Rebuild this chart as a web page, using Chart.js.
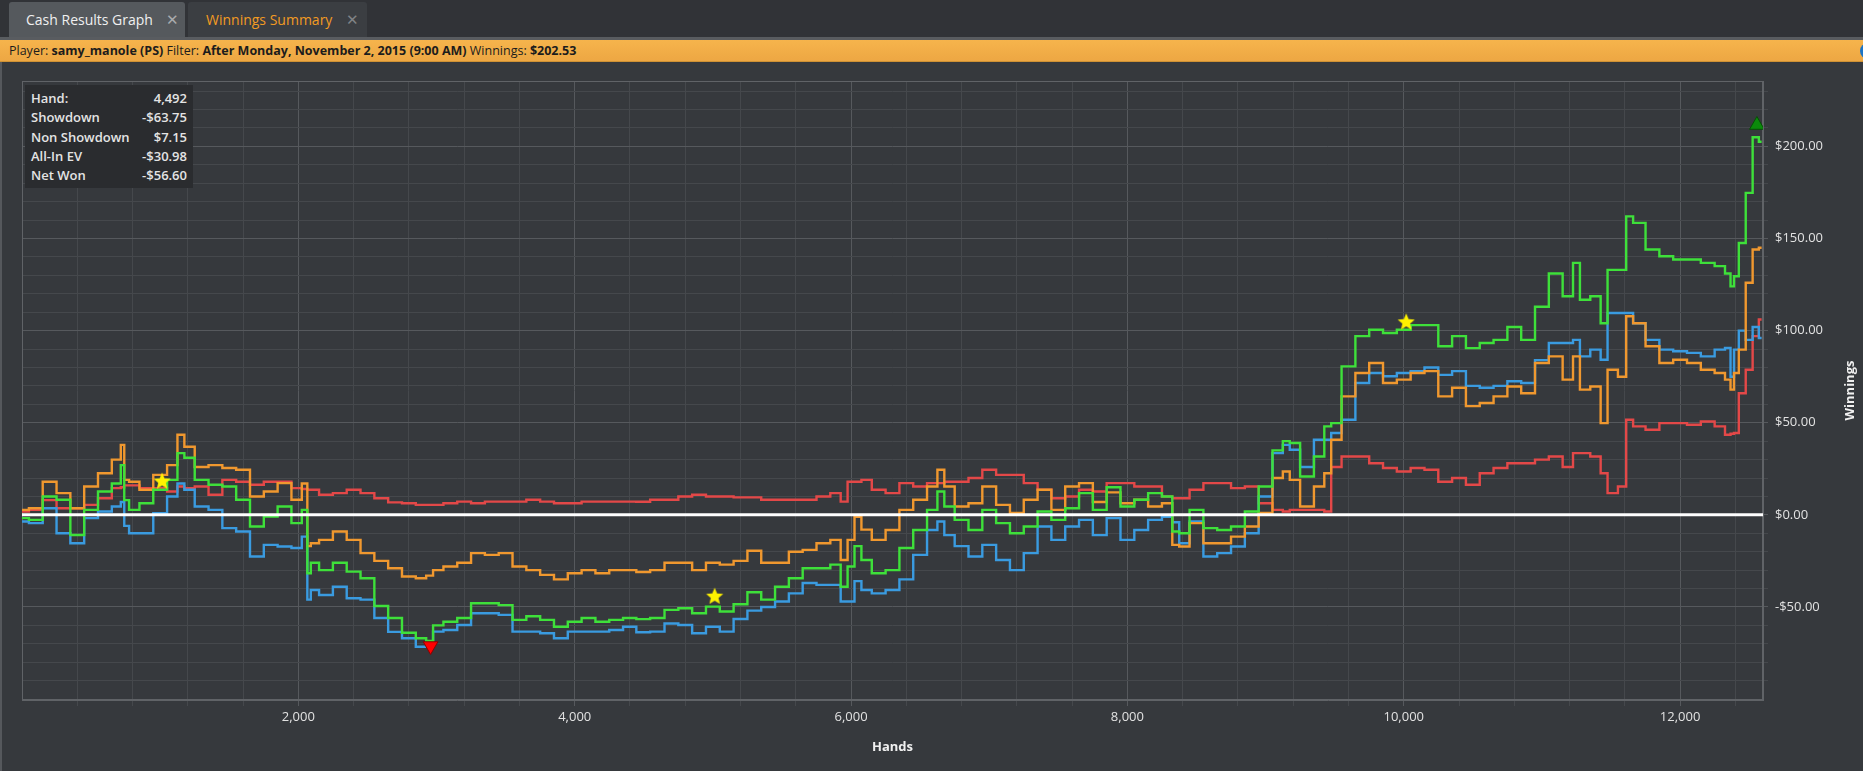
<!DOCTYPE html>
<html>
<head>
<meta charset="utf-8">
<script src="https://cdn.jsdelivr.net/npm/chart.js@4.4.1/dist/chart.umd.min.js"></script>
<style>
  html, body { margin: 0; padding: 0; }
  body { width: 1863px; height: 771px; overflow: hidden; position: relative; background: #36393d; font-family: 'Open Sans', sans-serif; }
  #tabbar { position: absolute; left: 0; top: 0; width: 1863px; height: 37px; background: #313337; border-bottom: 3px solid #595c60; }
  .tab { position: absolute; top: 2px; height: 35px; border-radius: 3px 3px 0 0; font-size: 14px; line-height: 35px; }
  .tab .x { position: absolute; top: 0; font-size: 15px; }
  #tab1 { left: 9px; width: 176px; background: #55595d; color: #f0f0f0; }
  #tab2 { left: 188px; width: 179px; background: #3b3e42; color: #f29b22; }
  #header { position: absolute; left: 0; top: 40px; width: 1863px; height: 22px; background: linear-gradient(#f6b44c, #eda743); border-bottom: 1px solid #cf9234; box-sizing: border-box; font-size: 12.5px; line-height: 21px; color: #1c1c1c; padding-left: 9px; white-space: nowrap; }
  #header b { font-weight: 700; }
  #blue { position: absolute; left: 1860px; top: 43px; width: 16px; height: 16px; border-radius: 8px; background: #1b74c6; }
  #leftline { position: absolute; left: 0; top: 62px; width: 2px; height: 709px; background: #55585c; }
  #chart { position: absolute; left: 0; top: 62px; }
  #stats { position: absolute; left: 25px; top: 85px; width: 168px; height: 103px; background: #2a2c2f; box-sizing: border-box; padding: 4px 6px 0 6px; font-size: 13px; font-weight: 600; color: #e4e4e4; }
  #stats div { height: 19.3px; line-height: 19.3px; display: flex; justify-content: space-between; }
</style>
</head>
<body>
<div id="tabbar"></div>
<div class="tab" id="tab1"><span style="position:absolute;left:17px">Cash Results Graph</span><span class="x" style="left:157px;color:#a9abad">&#x2715;</span></div>
<div class="tab" id="tab2"><span style="position:absolute;left:18px">Winnings Summary</span><span class="x" style="left:158px;color:#808386">&#x2715;</span></div>
<div id="header">Player: <b>samy_manole (PS)</b> Filter: <b>After Monday, November 2, 2015 (9:00 AM)</b> Winnings: <b>$202.53</b></div>
<div id="blue"></div>
<canvas id="chart" width="1863" height="709"></canvas>
<div id="leftline"></div>
<div id="stats">
  <div><span>Hand:</span><span>4,492</span></div>
  <div><span>Showdown</span><span>-$63.75</span></div>
  <div><span>Non Showdown</span><span>$7.15</span></div>
  <div><span>All-In EV</span><span>-$30.98</span></div>
  <div><span>Net Won</span><span>-$56.60</span></div>
</div>
<script>
// hands played (x) and cumulative winnings per line
let hands = [0, 100, 200, 300, 400, 500, 600, 700, 730, 750, 800, 900, 1000, 1100, 1150, 1200, 1300, 1400, 1500, 1600,
  1700, 1800, 1900, 2000, 2050, 2080, 2100, 2200, 2300, 2400, 2500, 2600, 2700, 2800, 2900, 2950, 3000, 3100, 3200, 3300,
  3400, 3500, 3600, 3700, 3800, 3900, 4000, 4100, 4200, 4300, 4400, 4492, 4600, 4700, 4800, 4900, 5000, 5100, 5200, 5300,
  5400, 5500, 5600, 5700, 5800, 5900, 5950, 6000, 6050, 6100, 6200, 6300, 6400, 6500, 6600, 6650, 6700, 6800, 6900, 7000,
  7100, 7200, 7300, 7400, 7500, 7600, 7700, 7800, 7900, 8000, 8100, 8200, 8300, 8350, 8400, 8500, 8600, 8700, 8800, 8900,
  9000, 9100, 9150, 9200, 9300, 9400, 9450, 9500, 9600, 9700, 9800, 9900, 10000, 10100, 10200, 10300, 10400, 10500, 10600, 10700,
  10800, 10900, 11000, 11100, 11200, 11250, 11300, 11400, 11450, 11500, 11600, 11620, 11700, 11800, 11900, 12000, 12100, 12200, 12300, 12350,
  12380, 12400, 12450, 12500, 12550, 12590];

let netWon = [-1.8, -2.7, 10, 8.2, -10.9, 2.7, 12.7, 17, 27, 8, 2.7, 6.3, 13.6, 19, 33.5, 31, 19, 16.3, 15.4, 8.2,
  -6.3, -0.9, 4.5, -4.5, 2.7, -31.7, -26, -30, -26, -30.8, -34.4, -49.5, -56, -64, -67, -68.5, -60, -58, -56, -48,
  -48, -49, -57, -55, -57, -60.7, -58, -56, -58, -57, -56, -56.6, -56, -51.6, -50.7, -53.4, -49.8, -52.5, -48.5, -42,
  -46, -39, -34.4, -29, -29, -27, -39, -28, -17, -24.5, -31.7, -30, -18, -8.2, 2.7, 12.7, 4.5, -2.7, -8.2, 2.7,
  -4.5, -10, -6.3, 1.8, -2.7, 3.6, 11.8, 2.7, 15, 4.5, 8.2, 11.8, 10, -9, -10, 2.7, -7.2, -8.2, -6.3, 1.8,
  15.4, 35, 40, 39, 20.8, 31.7, 48, 49.8, 80.6, 97, 100.5, 98.7, 100.5, 103, 103, 91.5, 97, 90.5, 93.3, 95,
  102, 95, 113, 131, 118.7, 136.8, 116.8, 118.7, 104, 133, 133, 162, 158.5, 144, 140.4, 138.6, 138.6, 136.8, 135, 131,
  124, 129.5, 147.6, 174.8, 205, 202.53];

let allInEV = [2.7, 3.6, 18, 11.8, 3.6, 15.4, 22.6, 30, 38, 19, 18, 13.6, 21.7, 27, 43.5, 37, 26, 27, 25.4, 24.5,
  10, 12.7, 17.2, 8.2, 17, -17, -15.4, -13.6, -9, -13.6, -20.8, -25, -29, -33.5, -34.4, -33, -30, -28, -26, -20.8,
  -21.7, -20.8, -28, -30, -32.6, -35, -31.7, -30, -31.7, -30, -30, -30.98, -30, -26, -26, -30, -26, -27, -25, -19.5,
  -26, -26, -20, -19, -15.4, -13.6, -24.5, -13.6, -1, -8, -13.6, -8.2, 2.7, 8.2, 15.4, 24.5, 15.4, 4.5, 6.3, 15.4,
  5.4, 1, 8.2, 13.6, 2.7, 15.4, 17.2, 7, 12.2, 6.3, 8.2, 4.5, 6.3, -16.3, -17.2, -4.5, -15.4, -15.4, -11.8, -6.3,
  1, 20, 23.5, 19, 4.5, 15.4, 22.6, 40.8, 64.3, 77, 82.4, 71.6, 73.4, 77, 78, 64.3, 69, 59, 60.7, 64.3,
  69.7, 66, 82.4, 86, 73.4, 86, 68, 69.7, 49.8, 78.8, 75, 107.8, 104, 91.5, 82.4, 84.2, 82.4, 78.8, 77, 73.4,
  68, 77, 89.7, 126, 144, 145];

let showdown = [-3.6, -4.5, 3.6, -10, -15.4, -1.8, 1.8, 4.5, 7, -6, -10, -10, 0.9, 10, 17, 13.6, 4.5, 2.7, -7.2, -9,
  -22.6, -16.3, -17.2, -18, -11.8, -46, -40.8, -43.5, -39, -45.3, -46, -56, -63.5, -67, -71.6, -71.6, -63.4, -62.5, -59.8, -53.4,
  -53.4, -54.3, -63.4, -63.4, -64.3, -67, -63.4, -63.4, -63.4, -62.5, -60.7, -63.75, -63.4, -59, -59.8, -64.3, -60.7, -63.4, -56.5, -52,
  -50, -47, -42.6, -37, -38, -38, -47, -47, -36, -40.8, -42.6, -40.8, -35, -21.7, -8.2, -3.6, -11, -17, -22.6, -16.3,
  -24.5, -30, -20.8, -6.3, -13.6, -6.3, -2.7, -11, -1.8, -13.6, -8.2, -2.7, -1, -4, -15.4, -3.6, -22.6, -20.8, -17.2, -10,
  10, 33.5, 38, 35.3, 26, 40.8, 40.8, 44.4, 51.6, 71.6, 77, 75.2, 77, 78, 80, 76, 78, 70, 69, 70,
  72.5, 71.6, 84, 93.3, 93.3, 95, 86, 89.7, 84.2, 109.6, 109.6, 109.6, 104, 95, 89.7, 88.8, 87.9, 86, 89.7, 90.6,
  75, 89.7, 100, 95, 102, 96];

let nonShowdown = [1.8, 2.7, 8, 3.6, 3.6, 5.4, 9, 14.5, 15, 16, 16, 14.5, 14.5, 12.7, 15.4, 14.5, 15.4, 10.9, 19, 18,
  16.3, 18, 18, 14.5, 14, 13.6, 13.6, 10.9, 11.8, 13.6, 11.8, 9, 6.8, 6.3, 5.4, 5.4, 5.4, 6.3, 7.2, 6.3,
  7.2, 7.2, 7.2, 8.2, 7.2, 6.3, 6.3, 7.2, 7.2, 7.2, 7.2, 7.15, 8.2, 8.2, 10, 10.9, 10, 10, 9.5, 9.5,
  8.2, 8.2, 8.2, 8.2, 10, 11.8, 7.2, 18, 18, 19, 13.6, 11.8, 17.2, 15.4, 17.2, 17.2, 18, 18, 20, 24.5,
  21.7, 21.7, 17.2, 13.6, 9, 10, 13.6, 12.7, 17.2, 17.2, 15.4, 15.4, 10, 9, 9, 13.6, 17.2, 17.2, 14.5, 15.4,
  6.3, 2.7, 1.8, 2.7, 2.7, 2.7, 1.8, 26, 31.7, 31.7, 28, 25.4, 23.5, 25.4, 24.5, 18, 20, 16.3, 22.6, 25.4,
  28, 28, 30, 31.7, 26, 33.5, 33.5, 31.7, 22.6, 11.8, 15.4, 51.6, 48, 46.2, 49.8, 49.8, 48.9, 50.7, 48, 43.5,
  44, 44.4, 66, 78.8, 97, 106];

// markers: stars on net won, lowest and highest point
let starHands = [1014, 5013, 10018];
let starValues = [18.1, -44.4, 104.5];
let lowHand = [2957], lowValue = [-71.2];
let highHand = [12556], highValue = [211.6];

// axis ticks
let xTicks = [];
for (let h = 400; h <= 12400; h += 400) xTicks.push(h);
let yTicks = [];
for (let v = -90; v <= 230; v += 10) yTicks.push(v);

function pts(xs, ys) {
    return xs.map(function (x, i) { return {x: x, y: ys[i]}; });
}

// filled yellow star used as point image
function makeStar(r) {
    let c = document.createElement('canvas');
    c.width = c.height = 2 * r + 2;
    let g = c.getContext('2d');
    g.beginPath();
    for (let i = 0; i < 10; i++) {
        let a = -Math.PI / 2 + i * Math.PI / 5;
        let rr = i % 2 ? r * 0.45 : r;
        g.lineTo(r + 1 + rr * Math.cos(a), r + 1 + rr * Math.sin(a));
    }
    g.closePath();
    g.fillStyle = '#fff200';
    g.fill();
    return c;
}

function money(v) {
    return (v < 0 ? '-$' : '$') + Math.abs(v).toFixed(2);
}

const frame = {
    id: 'frame',
    beforeDatasetsDraw(chart) {
        const {ctx, chartArea: a} = chart;
        ctx.save();
        ctx.strokeStyle = '#606367';
        ctx.lineWidth = 1;
        ctx.strokeRect(a.left + 0.5, a.top + 0.5, a.right - a.left - 1, a.bottom - a.top - 1);
        ctx.restore();
    },
    afterDatasetsDraw(chart) {
        const {ctx, chartArea: a} = chart;
        let y0 = chart.scales.y.getPixelForValue(0);
        ctx.save();
        ctx.strokeStyle = '#ffffff';
        ctx.lineWidth = 3;
        ctx.beginPath();
        ctx.moveTo(a.left, y0);
        ctx.lineTo(a.right, y0);
        ctx.stroke();
        ctx.restore();
    },
    afterDraw(chart) {
        const {ctx, chartArea: a} = chart;
        ctx.save();
        ctx.fillStyle = '#f0f0f0';
        ctx.font = "bold 13px 'Open Sans', sans-serif";
        ctx.textAlign = 'center';
        ctx.textBaseline = 'middle';
        ctx.fillText('Hands', (a.left + a.right) / 2, 685);
        ctx.translate(1850, (a.top + a.bottom) / 2);
        ctx.rotate(-Math.PI / 2);
        ctx.fillText('Winnings', 0, 0);
        ctx.restore();
    }
};

Chart.defaults.font.family = "'Open Sans', sans-serif";
Chart.defaults.font.size = 13;
Chart.defaults.color = '#e2e2e2';

let lineStyle = {borderWidth: 2.4, pointRadius: 0, stepped: 'middle', tension: 0, fill: false};

var ctx = document.getElementById('chart').getContext('2d');
var chart = new Chart(ctx, {
    type: 'line',
    data: {
        datasets: [
            {label: 'Stars', data: pts(starHands, starValues), showLine: false, pointStyle: makeStar(9), pointRadius: 9},
            {label: 'Low', data: pts(lowHand, lowValue), showLine: false, pointStyle: 'triangle', pointRotation: 180,
                pointRadius: 8.5, backgroundColor: '#ff0000', borderColor: '#8a0000', pointBorderWidth: 1},
            {label: 'High', data: pts(highHand, highValue), showLine: false, pointStyle: 'triangle',
                pointRadius: 8.5, backgroundColor: '#0b8a0b', borderColor: '#055005', pointBorderWidth: 1},
            Object.assign({label: 'Net Won', data: pts(hands, netWon), borderColor: '#3ee03a'}, lineStyle),
            Object.assign({label: 'All-In EV', data: pts(hands, allInEV), borderColor: '#f0982f'}, lineStyle),
            Object.assign({label: 'Showdown', data: pts(hands, showdown), borderColor: '#3a9be0'}, lineStyle),
            Object.assign({label: 'Non Showdown', data: pts(hands, nonShowdown), borderColor: '#e34848'}, lineStyle)
        ]
    },
    options: {
        responsive: false,
        animation: false,
        devicePixelRatio: 1,
        events: [],
        layout: {padding: {left: 22, top: 19, right: 0, bottom: 0}},
        plugins: {legend: {display: false}, tooltip: {enabled: false}},
        scales: {
            x: {
                type: 'linear',
                min: 0,
                max: 12600,
                afterBuildTicks: function (scale) { scale.ticks = xTicks.map(function (v) { return {value: v}; }); },
                afterFit: function (scale) { scale.height = 71; },
                ticks: {
                    autoSkip: false, maxRotation: 0, padding: 3, color: '#e2e2e2',
                    callback: function (v) { return v % 2000 === 0 ? v.toLocaleString('en-US') : ''; }
                },
                grid: {
                    color: function (c) { return c.tick && c.tick.value % 2000 === 0 ? '#56595d' : '#45484c'; },
                    tickLength: 6
                },
                border: {color: '#606367'}
            },
            y: {
                type: 'linear',
                position: 'right',
                min: -100.5,
                max: 235.5,
                afterBuildTicks: function (scale) { scale.ticks = yTicks.map(function (v) { return {value: v}; }); },
                afterFit: function (scale) { scale.width = 100; },
                ticks: {
                    autoSkip: false, padding: 7, color: '#e2e2e2',
                    callback: function (v) { return v % 50 === 0 ? money(v) : ''; }
                },
                grid: {
                    color: function (c) { return c.tick && c.tick.value % 50 === 0 ? '#56595d' : '#45484c'; },
                    tickLength: 5
                },
                border: {color: '#606367'}
            }
        }
    },
    plugins: [frame]
});
</script>
</body>
</html>
